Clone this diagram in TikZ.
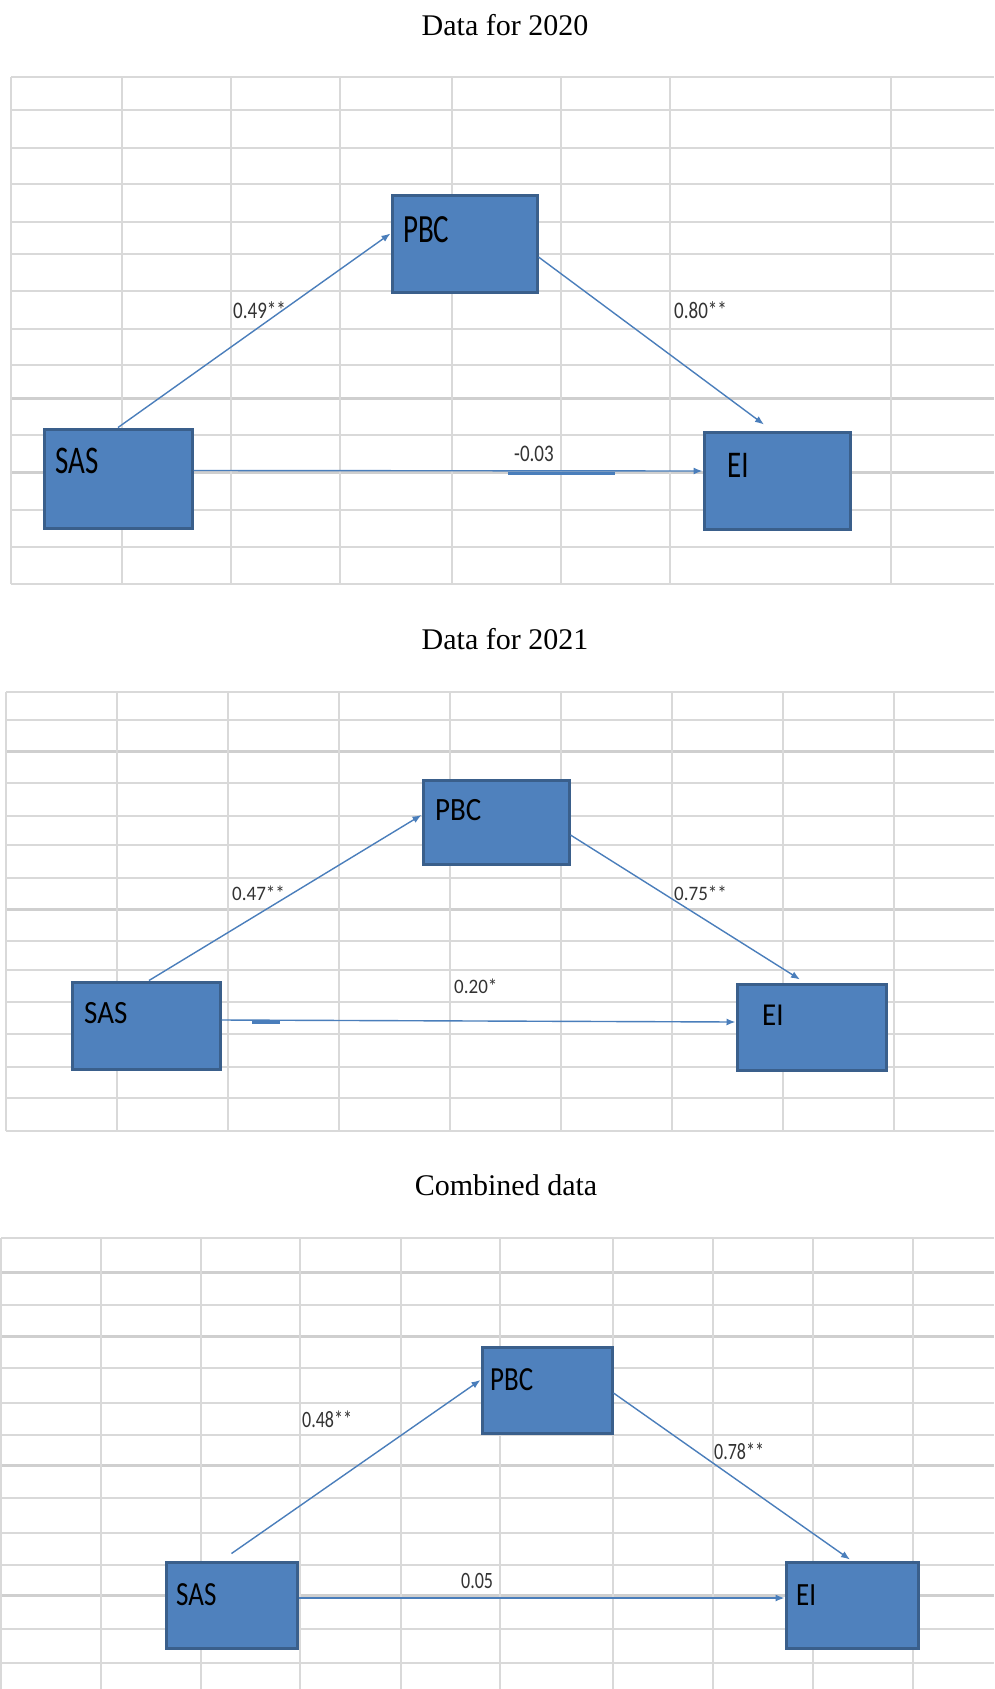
\documentclass[tikz,border=0pt]{standalone}
\usepackage{fontspec}
\setmainfont{Liberation Serif}
\newfontfamily\carl{Carlito}
\usetikzlibrary{arrows.meta,calc}
\definecolor{boxfill}{HTML}{4F81BD}
\definecolor{boxedge}{HTML}{3A5F8B}
\definecolor{arrowc}{HTML}{4A7EBB}
\definecolor{gridc}{HTML}{D9D9D9}
\definecolor{gridd}{HTML}{CFCFCF}
\definecolor{labc}{HTML}{333333}
\newcommand\vtxt[3]{\scalebox{1}[#2]{\fontsize{#1}{#1}\selectfont\carl #3}}
\begin{document}
\begin{tikzpicture}[x=1pt,y=-1pt,
  gridline/.style={draw=gridc,line width=1.5pt},
  gridthick/.style={draw=gridd,line width=3pt},
  box/.style={draw=boxedge,fill=boxfill,line width=3pt,inner sep=0pt,rectangle},
  vname/.style={anchor=base west,inner sep=0pt,text=black},
  coef/.style={anchor=base west,inner sep=0pt,text=labc},
  conn/.style={draw=arrowc,line width=1.4pt,-{Latex[length=9pt,width=7pt]}},
  stub/.style={draw=arrowc,line width=3pt},
  ttl/.style={anchor=base,inner sep=0pt,font=\fontsize{30}{36}\selectfont}]
\useasboundingbox[fill=white] (0,0) rectangle (994,1689);

% ---------- titles
\node[ttl] (t1) at (505,35) {Data for 2020};
\node[ttl] (t2) at (505,649) {Data for 2021};
\node[ttl] (t3) at (506,1195) {Combined data};

% ---------- panel 1 grid
\foreach \y in {77,110,148,184,222,254,291,329,365,435,510,547,584}
  \draw[gridline] (11,\y) -- (994,\y);
\foreach \y in {398,472}
  \draw[gridthick] (11,\y) -- (994,\y);
\foreach \x in {11,122,231,340,452,561,670,891}
  \draw[gridline] (\x,77) -- (\x,584);

% ---------- panel 2 grid
\foreach \y in {692,720,783,816,845,878,941,970,1002,1034,1067,1098,1131}
  \draw[gridline] (6,\y) -- (994,\y);
\foreach \y in {751,909}
  \draw[gridthick] (6,\y) -- (994,\y);
\foreach \x in {6,117,228,339,450,561,672,783,894}
  \draw[gridline] (\x,692) -- (\x,1131);

% ---------- panel 3 grid
\foreach \y in {1238,1305,1368,1403,1435,1498,1533,1565,1629,1663}
  \draw[gridline] (1,\y) -- (994,\y);
\foreach \y in {1272,1336,1465,1595}
  \draw[gridthick] (1,\y) -- (994,\y);
\foreach \x in {1,101,201,300,401,500,613,713,813,913}
  \draw[gridline] (\x,1238) -- (\x,1689);

% ---------- panel 1
\node[box,minimum width=145pt,minimum height=97pt] (P1) at (464.5,243.5) {};
\node[box,minimum width=148pt,minimum height=99pt] (S1) at (118,478.5) {};
\node[box,minimum width=146pt,minimum height=97pt] (E1) at (777,480.5) {};
\node[vname] (P1t) at (403,242) {\vtxt{29}{1.38}{PBC}};
\node[vname] (S1t) at (55,473) {\vtxt{29}{1.35}{SAS}};
\node[vname] (E1t) at (727,477) {\vtxt{29}{1.3}{EI}};
\draw[conn] (S1.north) -- ($(P1.west)+(0,-10)$);
\draw[conn] ($(P1.east)+(0,13.5)$) -- ($(E1.north)+(-13,-6)$);
\draw[conn] ($(S1.east)+(0,-8)$) -- ($(E1.west)+(0,-9.5)$);
\draw[stub] (508,473.5) -- (615,473.5);
\node[coef] (c1a) at (233,318) {\vtxt{19}{1.25}{0.49**}};
\node[coef] (c1b) at (674,318) {\vtxt{19}{1.25}{0.80**}};
\node[coef] (c1c) at (514,461) {\vtxt{19}{1.25}{-0.03}};

% ---------- panel 2
\node[box,minimum width=146pt,minimum height=84pt] (P2) at (496,822) {};
\node[box,minimum width=148pt,minimum height=87pt] (S2) at (146,1025.5) {};
\node[box,minimum width=149pt,minimum height=86pt] (E2) at (811.5,1027) {};
\node[vname] (P2t) at (435,820) {\vtxt{29}{1.12}{PBC}};
\node[vname] (S2t) at (84,1023) {\vtxt{29}{1.12}{SAS}};
\node[vname] (E2t) at (762,1025) {\vtxt{29}{1.1}{EI}};
\draw[conn] ($(S2.north)+(3,0)$) -- ($(P2.west)+(0,-7)$);
\draw[conn] ($(P2.east)+(0,13)$) -- ($(E2.north)+(-11.5,-3)$);
\draw[conn] ($(S2.east)+(0,-5.5)$) -- ($(E2.west)+(0,-5)$);
\draw[stub] (252,1022) -- (280,1022);
\node[coef] (c2a) at (232,900) {\vtxt{19}{1.08}{0.47**}};
\node[coef] (c2b) at (674,900) {\vtxt{19}{1.08}{0.75**}};
\node[coef] (c2c) at (454,993) {\vtxt{19}{1.08}{0.20*}};

% ---------- panel 3
\node[box,minimum width=130pt,minimum height=86pt] (P3) at (547,1390) {};
\node[box,minimum width=131pt,minimum height=86pt] (S3) at (231.5,1605) {};
\node[box,minimum width=132pt,minimum height=86pt] (E3) at (852,1605) {};
\node[vname] (P3t) at (490,1390) {\vtxt{27}{1.25}{PBC}};
\node[vname] (S3t) at (176,1605) {\vtxt{27}{1.25}{SAS}};
\node[vname] (E3t) at (796,1605) {\vtxt{27}{1.2}{EI}};
\draw[conn] ($(S3.north)+(0,-7)$) -- ($(P3.west)+(0,-10)$);
\draw[conn] ($(P3.east)+(0,3)$) -- ($(E3.north)+(-2,-1)$);
\draw[conn] ($(S3.east)+(0,-7)$) -- ($(E3.west)+(0,-7)$);
\node[coef] (c3a) at (302,1427) {\vtxt{18}{1.3}{0.48**}};
\node[coef] (c3b) at (714,1459) {\vtxt{18}{1.3}{0.78**}};
\node[coef] (c3c) at (461,1588) {\vtxt{18}{1.3}{0.05}};
\end{tikzpicture}
\end{document}
